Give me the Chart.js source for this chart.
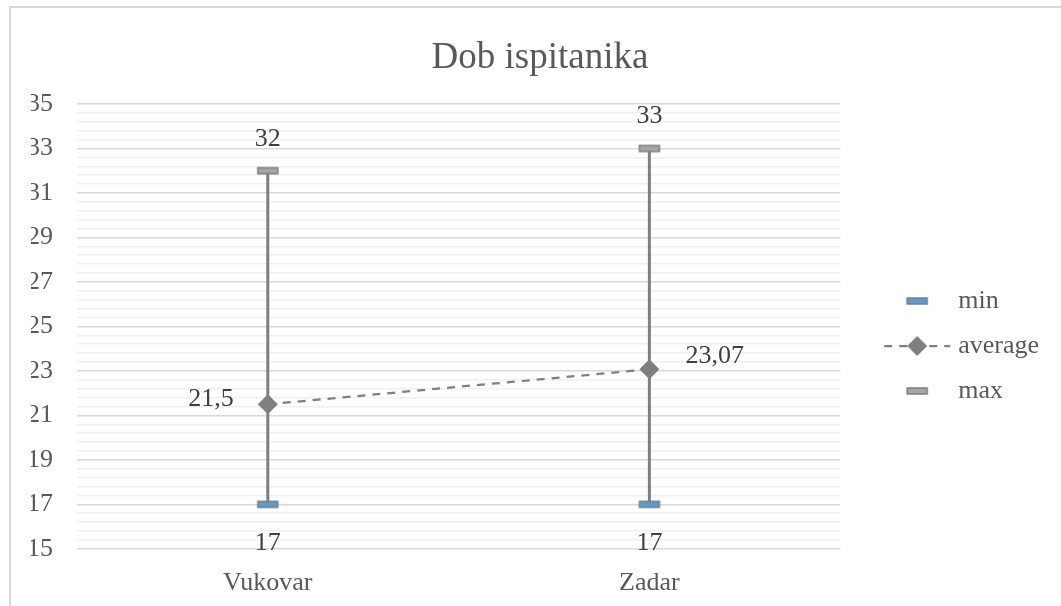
<!DOCTYPE html>
<html lang="hr">
<head>
  <meta charset="UTF-8">
  <title>Dob ispitanika</title>
  <script src="https://cdn.jsdelivr.net/npm/chart.js"></script>
  <style>
    html, body {
      margin: 0;
      overflow: hidden;
      background: #fff;
    }
    .frame {
      position: absolute;
      left: 9px;
      top: 6px;
      width: 1100px;
      height: 700px;
      border: 2px solid #d9d9d9;
    }
    .chart-wrap {
      position: absolute;
      left: 0;
      top: 0;
      width: 1061px;
      height: 606px;
    }
  </style>
</head>
<body>
<div class="frame"></div>
<div class="chart-wrap"><canvas id="ageChart"></canvas></div>

<script>
  // podaci s grafa
  const cities = ['Vukovar', 'Zadar'];
  const minAge = [17, 17];
  const avgAge = [21.5, 23.07];
  const maxAge = [32, 33];
  const yLabels = [15, 17, 19, 21, 23, 25, 27, 29, 31, 33, 35];

  const GREY = '#7f7f7f';
  const FONT = '"Liberation Serif", "Times New Roman", serif';

  function isMajor(v) {
    const r = Math.round(v * 1000) / 1000;
    return yLabels.includes(r);
  }

  // plosnati marker (min / max)
  function flatMarker(fill, w, cx) {
    const c = document.createElement('canvas');
    c.width = w; c.height = 10;
    const g = c.getContext('2d');
    g.fillStyle = fill;
    g.strokeStyle = GREY;
    g.lineWidth = 1.5;
    g.fillRect(cx - 10, 2, 20, 6);
    g.strokeRect(cx - 10, 2, 20, 6);
    return c;
  }

  function avgLegendIcon(w, cx) {
    const c = document.createElement('canvas');
    c.width = w; c.height = 24;
    const g = c.getContext('2d');
    g.strokeStyle = GREY;
    g.lineWidth = 2.25;
    g.setLineDash([8, 7]);
    g.beginPath();
    g.moveTo(cx - 33, 12);
    g.lineTo(cx + 33, 12);
    g.stroke();
    g.fillStyle = GREY;
    g.beginPath();
    g.moveTo(cx, 2); g.lineTo(cx + 10, 12); g.lineTo(cx, 22); g.lineTo(cx - 10, 12);
    g.closePath();
    g.fill();
    return c;
  }

  const minMark = flatMarker('#5b9bd5', 24, 12);
  const maxMark = flatMarker('#a5a5a5', 24, 12);
  const legendIcons = [
    flatMarker('#5b9bd5', 100, 65),
    avgLegendIcon(100, 65),
    flatMarker('#a5a5a5', 100, 65)
  ];

  // okomite linije min-max
  const hiLoPlugin = {
    id: 'hiLo',
    beforeDatasetsDraw(chart) {
      const { ctx, scales: { x, y } } = chart;
      ctx.save();
      ctx.strokeStyle = GREY;
      ctx.lineWidth = 3;
      cities.forEach((c, i) => {
        const px = x.getPixelForValue(i);
        ctx.beginPath();
        ctx.moveTo(px, y.getPixelForValue(minAge[i]));
        ctx.lineTo(px, y.getPixelForValue(maxAge[i]));
        ctx.stroke();
      });
      ctx.restore();
    }
  };

  // oznake vrijednosti
  const labelPlugin = {
    id: 'valueLabels',
    afterDatasetsDraw(chart) {
      const ctx = chart.ctx;
      ctx.save();
      ctx.font = '26px ' + FONT;
      ctx.fillStyle = '#404040';
      ctx.textBaseline = 'middle';
      chart.data.datasets.forEach((ds, di) => {
        chart.getDatasetMeta(di).data.forEach((pt, i) => {
          const txt = String(ds.data[i]).replace('.', ',');
          let x = pt.x, y = pt.y;
          if (ds.label === 'max') { ctx.textAlign = 'center'; y -= 32; }
          else if (ds.label === 'min') { ctx.textAlign = 'center'; y += 39; }
          else if (i === 0) { ctx.textAlign = 'right'; x -= 34; y -= 5; }
          else { ctx.textAlign = 'left'; x += 36; y -= 13; }
          ctx.fillText(txt, x, y);
        });
      });
      ctx.restore();
    }
  };

  new Chart(document.getElementById('ageChart'), {
    type: 'line',
    data: {
      labels: cities,
      datasets: [
        { label: 'min', data: minAge, showLine: false, pointStyle: minMark, borderColor: GREY, backgroundColor: '#5b9bd5' },
        { label: 'average', data: avgAge, borderColor: GREY, backgroundColor: GREY, borderWidth: 2.25, borderDash: [8, 7],
          pointStyle: 'rectRot', pointRadius: 10, pointHoverRadius: 10, pointBorderWidth: 0 },
        { label: 'max', data: maxAge, showLine: false, pointStyle: maxMark, borderColor: GREY, backgroundColor: '#a5a5a5' }
      ]
    },
    options: {
      responsive: true,
      maintainAspectRatio: false,
      animation: false,
      events: [],
      layout: { padding: { left: 31, right: 12, top: 0, bottom: -12 } },
      plugins: {
        title: {
          display: true,
          text: 'Dob ispitanika',
          color: '#595959',
          font: { family: FONT, size: 37, weight: 'normal' },
          padding: { top: 36, bottom: 23.6 }
        },
        legend: {
          position: 'right',
          title: { display: true, text: ' ', font: { size: 10 }, padding: { top: 62, bottom: 0 } },
          labels: {
            usePointStyle: true,
            pointStyleWidth: 86,
            padding: 19,
            color: '#595959',
            font: { family: FONT, size: 26 },
            generateLabels(chart) {
              const items = Chart.defaults.plugins.legend.labels.generateLabels(chart);
              items.forEach((it, i) => { it.pointStyle = legendIcons[i]; });
              return items;
            }
          }
        },
        tooltip: { enabled: false }
      },
      scales: {
        x: {
          offset: true,
          grid: { display: false, drawTicks: false },
          border: { display: false },
          ticks: { color: '#595959', font: { family: FONT, size: 26 }, padding: 19 }
        },
        y: {
          min: 15,
          max: 35,
          border: { display: false },
          afterFit(scale) { scale.width = 46; },
          grid: {
            drawTicks: false,
            color: ctx => isMajor(ctx.tick.value) ? '#d9d9d9' : '#f0f0f0',
            lineWidth: 1.5
          },
          ticks: {
            stepSize: 0.4,
            autoSkip: false,
            maxTicksLimit: 100,
            padding: 24,
            color: '#595959',
            font: { family: FONT, size: 26 },
            callback: v => isMajor(v) ? String(Math.round(v)) : ''
          }
        }
      }
    },
    plugins: [hiLoPlugin, labelPlugin]
  });
</script>
</body>
</html>
